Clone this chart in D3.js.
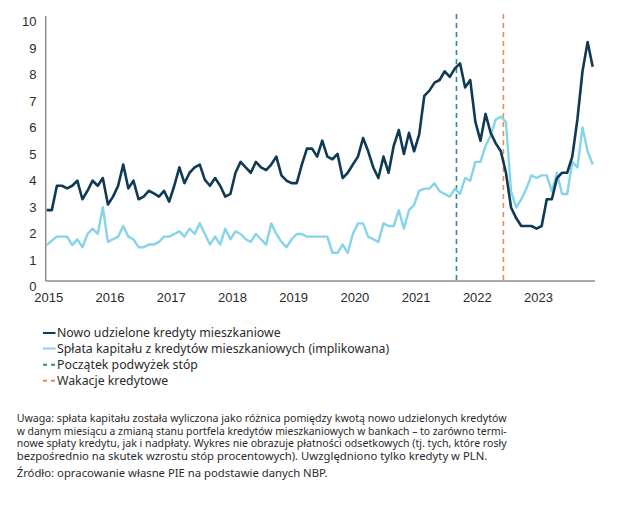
<!DOCTYPE html>
<html><head><meta charset="utf-8">
<script src="https://cdn.jsdelivr.net/npm/d3@7"></script>
<style>
html,body{margin:0;padding:0;background:#fff;}
svg{display:block;}
</style>
</head><body>
<script>
// ---- data (monthly, Jan 2015 – Dec 2023, bln PLN) ----
const yearLabels = ["2015","2016","2017","2018","2019","2020","2021","2022","2023"];
const yTicks = [0,1,2,3,4,5,6,7,8,9,10];
const newLoans = [
  2.89,2.89,3.81,3.81,3.71,3.81,4.00,3.30,3.62,4.00,3.81,4.10,
  3.10,3.40,3.81,4.61,3.71,4.00,3.30,3.40,3.62,3.52,3.40,3.62,
  3.21,3.81,4.50,3.91,4.30,4.50,4.61,4.03,3.81,4.10,3.81,3.40,
  3.50,4.30,4.71,4.50,4.30,4.71,4.50,4.40,4.61,4.91,4.20,4.00,
  3.91,3.91,4.61,5.21,5.21,4.91,5.51,4.91,4.81,5.01,4.10,4.30,
  4.61,4.91,5.61,5.11,4.50,4.10,4.91,4.30,5.31,5.91,5.01,5.81,
  5.11,5.75,7.20,7.40,7.70,7.80,8.13,7.92,8.24,8.43,7.52,7.80,
  6.23,5.51,6.52,5.81,5.41,5.11,4.30,2.99,2.59,2.29,2.29,2.29,
  2.19,2.29,3.30,3.30,4.10,4.30,4.30,4.91,6.31,8.13,9.23,8.30
];
const repayment = [
  1.57,1.74,1.89,1.89,1.89,1.57,1.79,1.49,1.99,2.19,1.99,3.00,
  1.69,1.79,1.89,2.29,1.89,1.79,1.49,1.49,1.59,1.59,1.69,1.89,
  1.89,1.99,2.09,1.89,2.19,1.99,2.39,1.99,1.59,1.89,1.59,2.19,
  1.79,2.09,1.99,1.79,1.69,1.99,1.79,1.59,2.39,1.99,1.69,1.49,
  1.79,1.99,1.99,1.89,1.89,1.89,1.89,1.89,1.28,1.28,1.59,1.28,
  1.99,2.39,2.39,1.89,1.79,1.69,2.39,2.29,2.29,2.89,2.19,2.89,
  3.09,3.62,3.70,3.70,3.90,3.60,3.50,3.40,3.70,3.50,4.10,4.00,
  4.71,4.71,5.31,5.71,6.31,6.42,6.21,3.60,2.99,3.30,3.70,4.20,
  4.10,4.20,4.20,3.60,4.30,3.50,3.50,4.71,4.50,6.01,5.11,4.61
];
// event markers (month index from Jan 2015)
const eventMonths = [80.3, 89.5];
const legendLabels = [
  "Nowo udzielone kredyty mieszkaniowe",
  "Spłata kapitału z kredytów mieszkaniowych (implikowana)",
  "Początek podwyżek stóp",
  "Wakacje kredytowe"
];
const noteLines = [
  "Uwaga: spłata kapitału została wyliczona jako różnica pomiędzy kwotą nowo udzielonych kredytów",
  "w danym miesiącu a zmianą stanu portfela kredytów mieszkaniowych w bankach – to zarówno termi-",
  "nowe spłaty kredytu, jak i nadpłaty. Wykres nie obrazuje płatności odsetkowych (tj. tych, które rosły",
  "bezpośrednio na skutek wzrostu stóp procentowych). Uwzględniono tylko kredyty w PLN."
];
const sourceLine = "Źródło: opracowanie własne PIE na podstawie danych NBP.";

// ---- styles ----
const darkCol = "#0f3a55", lightCol = "#86d4ea";
const eventCols = ["#2a8b9a", "#f08a4c"];
const axisCol = "#8c8c8c", textCol = "#2b2b2b";
const tickFont = "'Liberation Sans Narrow','Arial Narrow','Liberation Sans',Arial,sans-serif";
const bodyFont = "'Noto Sans','Open Sans',sans-serif";

const W = 621, H = 508;
const svg = d3.select("body").append("svg").attr("width", W).attr("height", H);

const x = d3.scaleLinear().domain([0, newLoans.length - 1]).range([46.7, 592.7]);
const y = d3.scaleLinear().domain([0, 10]).range([286.7, 21.7]);
const frame = {left: 45.7, right: 595, top: 16, bottom: 281};

// y tick labels
const yAxis = d3.axisLeft(y).tickValues(yTicks).tickSize(0).tickPadding(0).tickFormat(d3.format("d"));
const gy = svg.append("g").attr("transform", "translate(36.5,0)").call(yAxis);
gy.select(".domain").remove();
gy.selectAll("text").attr("font-family", tickFont).attr("font-size", 13).attr("fill", textCol);

// x tick labels
const xAxis = d3.axisBottom(x).tickValues(yearLabels.map((d, i) => i * 12))
  .tickSize(0).tickPadding(0).tickFormat((d, i) => yearLabels[i]);
const gx = svg.append("g").attr("transform", "translate(1.5,293)").call(xAxis);
gx.select(".domain").remove();
gx.selectAll("text").attr("font-family", tickFont).attr("font-size", 13).attr("fill", textCol);

// frame
svg.append("line").attr("x1", frame.left).attr("x2", frame.left).attr("y1", frame.top).attr("y2", frame.bottom)
  .attr("stroke", axisCol).attr("stroke-width", 1.5);
svg.append("line").attr("x1", frame.left).attr("x2", frame.right).attr("y1", frame.bottom).attr("y2", frame.bottom)
  .attr("stroke", axisCol).attr("stroke-width", 1.5);

// event lines
svg.selectAll("line.event").data(eventMonths).join("line").attr("class", "event")
  .attr("x1", d => x(d)).attr("x2", d => x(d)).attr("y1", 14).attr("y2", frame.bottom)
  .attr("stroke", (d, i) => eventCols[i]).attr("stroke-width", 1.6).attr("stroke-dasharray", "5,4");

// series
const line = d3.line().x((d, i) => x(i)).y(d => y(d));
svg.append("path").datum(repayment).attr("d", line).attr("fill", "none")
  .attr("stroke", lightCol).attr("stroke-width", 2.4).attr("stroke-linejoin", "round");
svg.append("path").datum(newLoans).attr("d", line).attr("fill", "none")
  .attr("stroke", darkCol).attr("stroke-width", 2.6).attr("stroke-linejoin", "round");

// legend
const legendCols = [darkCol, lightCol, eventCols[0], eventCols[1]];
const legY = [333, 348.5, 364.7, 380.7];
const leg = svg.append("g");
legendLabels.forEach((lab, i) => {
  const g = leg.append("g").attr("transform", `translate(0,${legY[i]})`);
  g.append("line").attr("x1", 43).attr("x2", 55.5).attr("y1", 0).attr("y2", 0)
    .attr("stroke", legendCols[i]).attr("stroke-width", 2)
    .attr("stroke-dasharray", i >= 2 ? "4,4" : null);
  g.append("text").attr("x", 57).attr("y", 0).attr("dy", "0.35em").text(lab)
    .attr("font-family", bodyFont).attr("font-size", 12.3).attr("fill", textCol);
});

// notes (justified)
const noteY = [418.3, 430.8, 443.3, 455.8];
const noteLeft = 16.7, noteRight = 506.7;
const noteSize = 11.3;
noteLines.forEach((t, i) => {
  const txt = svg.append("text").attr("x", noteLeft).attr("y", noteY[i]).attr("dy", "0.35em")
    .attr("font-family", bodyFont).attr("font-size", noteSize).attr("fill", textCol).text(t);
  if (i < noteLines.length - 1) {
    const w = txt.node().getComputedTextLength();
    const spaces = (t.match(/ /g) || []).length;
    const target = noteRight - noteLeft;
    if (w <= target) {
      txt.attr("word-spacing", (target - w) / spaces);
    } else {
      txt.attr("textLength", target).attr("lengthAdjust", "spacingAndGlyphs");
    }
  }
});
svg.append("text").attr("x", noteLeft).attr("y", 472.7).attr("dy", "0.35em")
  .attr("font-family", bodyFont).attr("font-size", noteSize).attr("fill", textCol).text(sourceLine);
</script>
</body></html>
